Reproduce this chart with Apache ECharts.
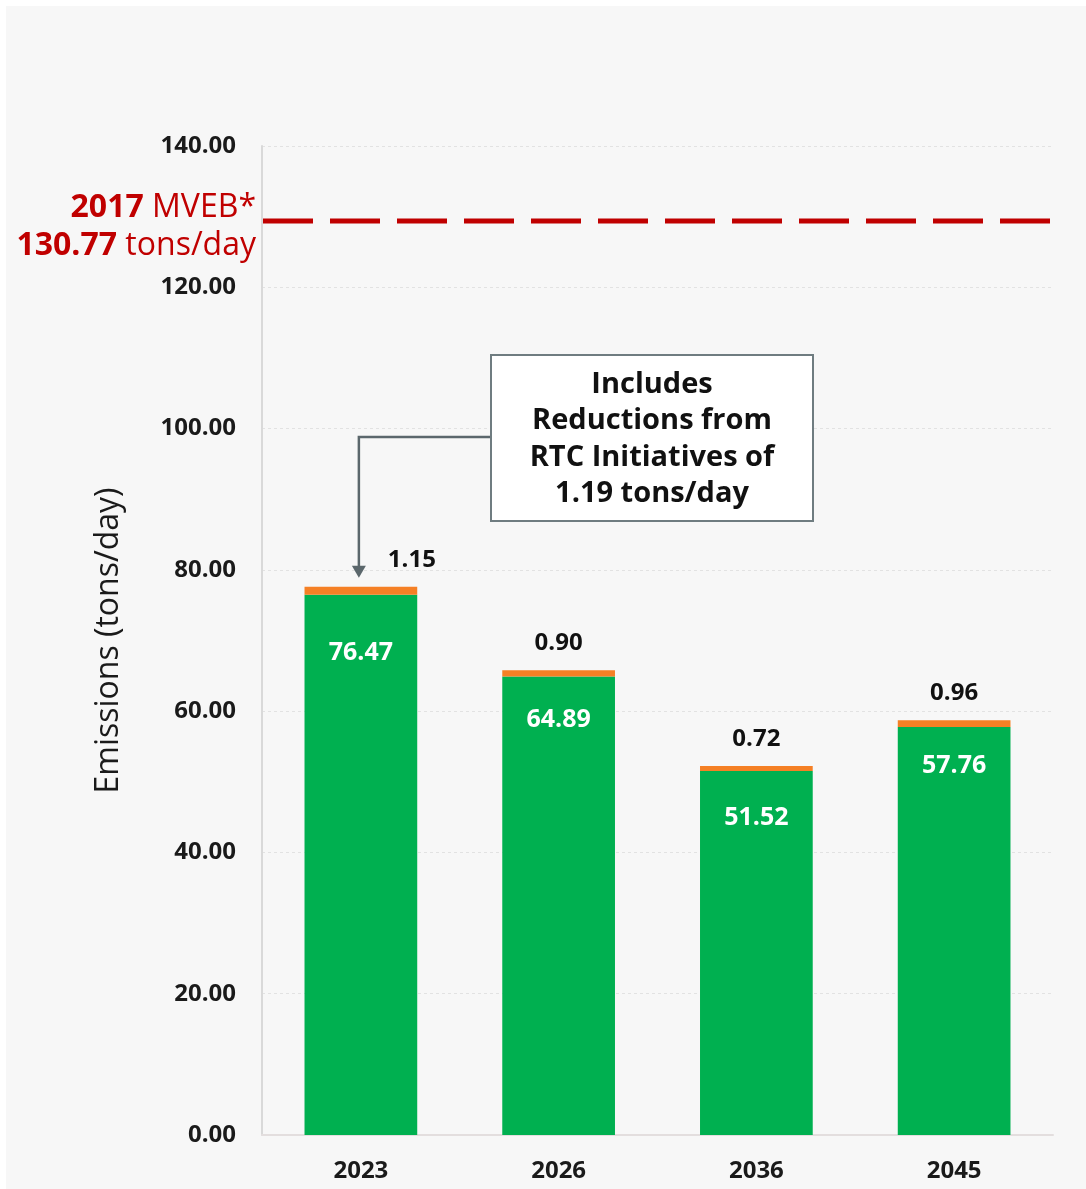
<!DOCTYPE html>
<html>
<head>
<meta charset="utf-8">
<script src="https://cdn.jsdelivr.net/npm/echarts@6/dist/echarts.min.js"></script>
<style>
  html, body { margin: 0; padding: 0; background: #ffffff; }
  #panel { position: absolute; left: 6px; top: 6px; width: 1080px; height: 1183px; background: #f7f7f7; }
  #chart { position: absolute; left: 0; top: 0; width: 1086px; height: 1189px; }
</style>
</head>
<body>
<div id="panel"></div>
<div id="chart"></div>
<script>
// ---- data ----
const years = ['2023', '2026', '2036', '2045'];
const baseEmissions = [76.47, 64.89, 51.52, 57.76];      // green
const rtcReductions = [1.15, 0.90, 0.72, 0.96];          // orange
const yTicks = { min: 0, max: 140, interval: 20 };
const mvebYear = '2017';
const mvebValue = 130.77;            // stated budget
const mvebDrawnLevel = 129.4;        // where the dashed line sits in the picture
const annotationLines = ['Includes', 'Reductions from', 'RTC Initiatives of', '1.19 tons/day'];

// ---- styles (kept apart from data) ----
const GREEN = '#00b050', ORANGE = '#f58025', RED = '#c00000';
const FONT = '"Open Sans", "Noto Sans", sans-serif';
const greenLabelDistance = [46, 31, 35, 27];
const orangeLabelOffset = [[51, 0], [0, 0], [0, 0], [0, 0]];

const chart = echarts.init(document.getElementById('chart'), null, { renderer: 'canvas' });

const option = {
  backgroundColor: 'transparent',
  animation: false,
  grid: { left: 262, right: 33, top: 146, bottom: 54, containLabel: false },
  xAxis: {
    type: 'category',
    data: years,
    axisLine: { show: true, lineStyle: { color: '#e3dede', width: 2 } },
    axisTick: { show: false },
    axisLabel: { color: '#1a1a1a', fontFamily: FONT, fontWeight: 'bold', fontSize: 24, margin: 24 }
  },
  yAxis: {
    type: 'value',
    min: yTicks.min, max: yTicks.max, interval: yTicks.interval,
    name: 'Emissions (tons/day)',
    nameLocation: 'middle',
    nameGap: 137,
    nameTextStyle: { color: '#1a1a1a', fontFamily: FONT, fontSize: 32, fontWeight: 'normal' },
    axisLine: { show: true, lineStyle: { color: '#d9d9d9', width: 2 } },
    axisTick: { show: false },
    axisLabel: {
      color: '#1a1a1a', fontFamily: FONT, fontWeight: 'bold', fontSize: 24, margin: 26,
      formatter: v => v.toFixed(2)
    },
    splitLine: { show: true, lineStyle: { color: '#e2e2e2', type: [3, 3], width: 1 } }
  },
  series: [
    {
      name: 'Emissions',
      type: 'bar',
      stack: 'total',
      barWidth: '57%',
      itemStyle: { color: GREEN },
      data: baseEmissions.map((v, i) => ({
        value: v,
        label: { distance: greenLabelDistance[i] }
      })),
      label: {
        show: true, position: 'insideTop',
        color: '#ffffff', fontFamily: FONT, fontWeight: 'bold', fontSize: 25, lineHeight: 24,
        formatter: p => p.value.toFixed(2)
      }
    },
    {
      name: 'RTC Reductions',
      type: 'bar',
      stack: 'total',
      barWidth: '57%',
      itemStyle: { color: ORANGE },
      data: rtcReductions.map((v, i) => ({
        value: v,
        label: { offset: orangeLabelOffset[i] }
      })),
      label: {
        show: true, position: 'top', distance: 15,
        color: '#111111', fontFamily: FONT, fontWeight: 'bold', fontSize: 24, lineHeight: 24,
        formatter: p => p.value.toFixed(2)
      }
    }
  ]
};

chart.setOption(option);

// ---- annotations placed through the chart's own scales ----
const lineY = chart.convertToPixel({ yAxisIndex: 0 }, mvebDrawnLevel);
const gridLeft = 262;
const tip = chart.convertToPixel({ seriesIndex: 0 }, [0, baseEmissions[0] + rtcReductions[0]]);
const tipX = tip[0] - 2, tipY = tip[1] - 9;

const boxX = 491, boxY = 355, boxW = 322, boxH = 166;
const elbowY = 437;

chart.setOption({
  graphic: [
    {
      type: 'line', z: 10,
      shape: { x1: gridLeft + 1, y1: lineY, x2: 1065, y2: lineY },
      style: { stroke: RED, lineWidth: 5, lineDash: [50, 17] }
    },
    {
      type: 'text', z: 10,
      x: 256, y: lineY + 6,
      style: {
        text: '{b|' + mvebYear + ' }{n|MVEB*}\n{b|' + mvebValue.toFixed(2) + ' }{n|tons/day}',
        align: 'right', verticalAlign: 'middle',
        rich: {
          b: { fontFamily: FONT, fontWeight: 'bold', fontSize: 32, fill: RED, lineHeight: 38 },
          n: { fontFamily: FONT, fontWeight: 'normal', fontSize: 32, fill: RED, lineHeight: 38 }
        }
      }
    },
    {
      type: 'polyline', z: 10,
      shape: { points: [[boxX, elbowY], [tipX, elbowY], [tipX, tipY - 10]] },
      style: { stroke: '#5b676c', lineWidth: 2.5, fill: null }
    },
    {
      type: 'polygon', z: 10,
      shape: { points: [[tipX - 7, tipY - 12], [tipX + 7, tipY - 12], [tipX, tipY]] },
      style: { fill: '#5b676c' }
    },
    {
      type: 'rect', z: 11,
      shape: { x: boxX, y: boxY, width: boxW, height: boxH },
      style: { fill: '#ffffff', stroke: '#6f7c80', lineWidth: 2 }
    },
    {
      type: 'text', z: 12,
      x: boxX + boxW / 2, y: boxY + boxH / 2 + 1,
      style: {
        text: annotationLines.join('\n'),
        align: 'center', verticalAlign: 'middle',
        fontFamily: FONT, fontWeight: 'bold', fontSize: 29, lineHeight: 36.5, fill: '#111111'
      }
    }
  ]
});
</script>
</body>
</html>
